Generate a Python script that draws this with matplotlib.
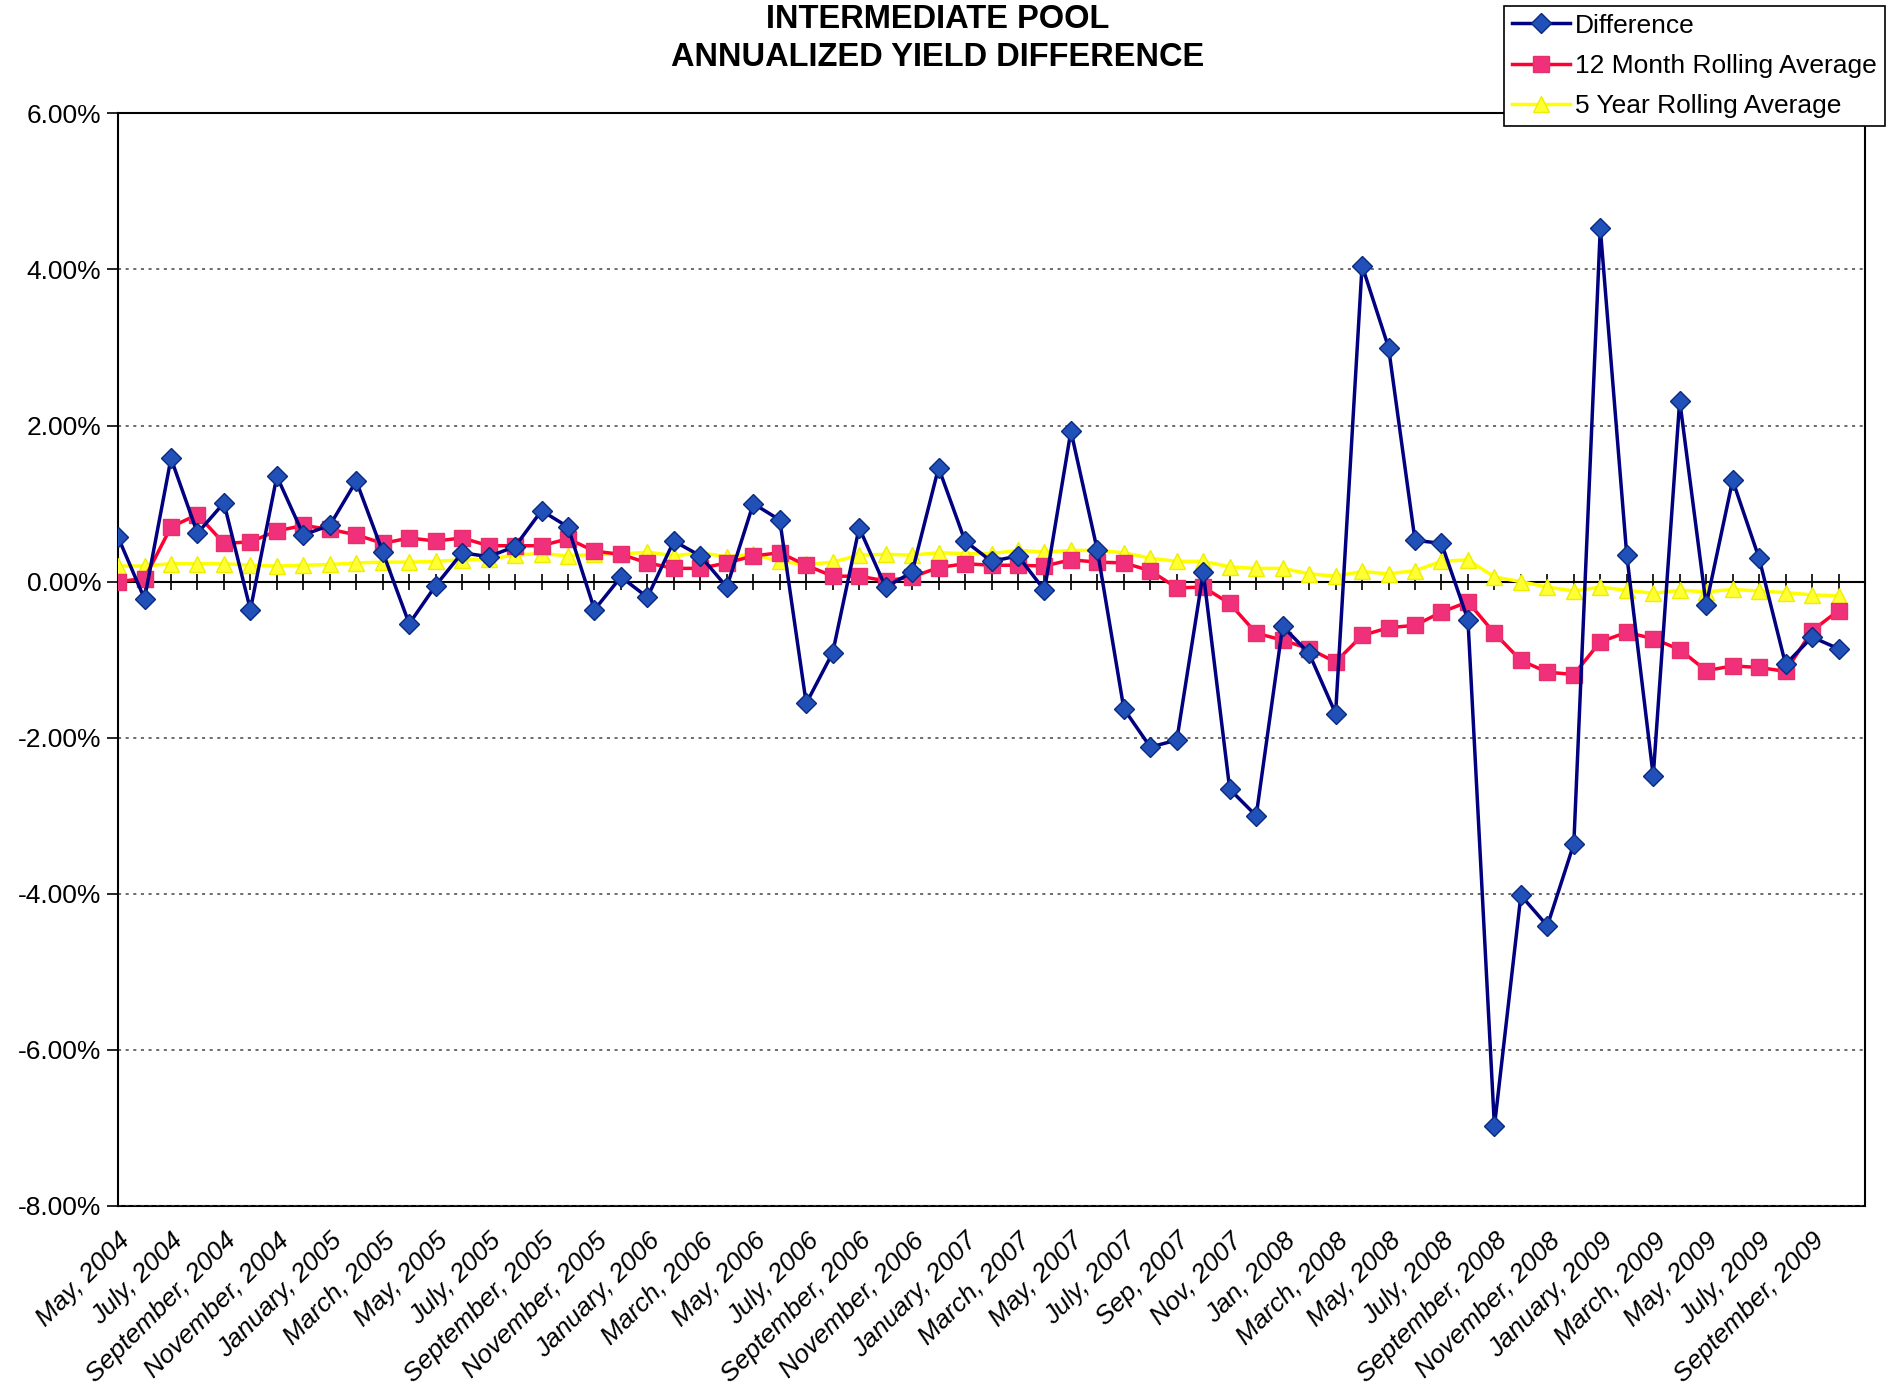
import numpy as np
import matplotlib
matplotlib.use("Agg")
import matplotlib.pyplot as plt
from matplotlib.ticker import FuncFormatter

plt.rcParams['font.family'] = ['Liberation Sans', 'DejaVu Sans']

# monthly data, May 2004 .. Oct 2009 (values in %)
difference = [0.57, -0.22, 1.58, 0.62, 1.01, -0.36, 1.35, 0.60, 0.72, 1.29,
              0.38, -0.54, -0.05, 0.37, 0.32, 0.45, 0.91, 0.70, -0.36, 0.06,
              -0.20, 0.52, 0.33, -0.07, 1.00, 0.79, -1.56, -0.91, 0.69, -0.07,
              0.12, 1.46, 0.52, 0.26, 0.33, -0.11, 1.93, 0.40, -1.63, -2.12,
              -2.03, 0.12, -2.66, -3.00, -0.57, -0.92, -1.69, 4.05, 3.00, 0.53,
              0.49, -0.49, -6.98, -4.02, -4.41, -3.36, 4.53, 0.34, -2.49, 2.32,
              -0.30, 1.30, 0.30, -1.06, -0.71, -0.86]
avg_12m = [0.00, 0.04, 0.70, 0.86, 0.49, 0.51, 0.65, 0.72, 0.67, 0.60,
           0.49, 0.56, 0.52, 0.56, 0.46, 0.46, 0.46, 0.55, 0.39, 0.35,
           0.24, 0.17, 0.17, 0.24, 0.33, 0.37, 0.21, 0.07, 0.07, 0.01,
           0.06, 0.18, 0.23, 0.21, 0.21, 0.20, 0.28, 0.25, 0.24, 0.14,
           -0.08, -0.07, -0.28, -0.66, -0.75, -0.86, -1.03, -0.69, -0.59, -0.56,
           -0.39, -0.26, -0.66, -1.01, -1.16, -1.19, -0.77, -0.65, -0.73, -0.87,
           -1.14, -1.08, -1.10, -1.15, -0.63, -0.37]
avg_5y = [0.20, 0.20, 0.23, 0.23, 0.23, 0.21, 0.20, 0.21, 0.22, 0.24,
          0.25, 0.25, 0.26, 0.28, 0.29, 0.34, 0.36, 0.33, 0.35, 0.35,
          0.38, 0.33, 0.37, 0.32, 0.35, 0.26, 0.22, 0.25, 0.34, 0.35,
          0.34, 0.37, 0.36, 0.36, 0.40, 0.38, 0.40, 0.40, 0.37, 0.30,
          0.26, 0.26, 0.19, 0.17, 0.17, 0.10, 0.07, 0.13, 0.10, 0.14,
          0.26, 0.28, 0.06, 0.00, -0.07, -0.12, -0.07, -0.11, -0.15, -0.11,
          -0.13, -0.10, -0.12, -0.14, -0.17, -0.18]

tick_labels = ["May, 2004", "July, 2004", "September, 2004", "November, 2004",
               "January, 2005", "March, 2005", "May, 2005", "July, 2005",
               "September, 2005", "November, 2005", "January, 2006", "March, 2006",
               "May, 2006", "July, 2006", "September, 2006", "November, 2006",
               "January, 2007", "March, 2007", "May, 2007", "July, 2007",
               "Sep, 2007", "Nov, 2007", "Jan, 2008", "March, 2008",
               "May, 2008", "July, 2008", "September, 2008", "November, 2008",
               "January, 2009", "March, 2009", "May, 2009", "July, 2009",
               "September, 2009"]

x = np.arange(len(difference))

fig = plt.figure(figsize=(18.98, 14.0), dpi=100)
ax = fig.add_axes([0.0622, 0.1386, 0.9204, 0.7804])

ax.plot(x, avg_5y, color="#FFFF00", lw=2.5, marker="^", ms=12,
        mfc="#FFFF33", mec="#EEEE00", label="5 Year Rolling Average", zorder=3)
ax.plot(x, avg_12m, color="#FF0033", lw=2.5, marker="s", ms=12,
        mfc="#F0307A", mec="#E8306A", label="12 Month Rolling Average", zorder=4)
ax.plot(x, difference, color="#000080", lw=2.5, marker="D", ms=10,
        mfc="#2050B8", mec="#0A2A80", label="Difference", zorder=5)

ax.set_xlim(0, 66)
ax.set_ylim(-8, 6)
ax.set_yticks(np.arange(-8, 6.1, 2))
ax.yaxis.set_major_formatter(FuncFormatter(lambda v, p: f"{v:.2f}%"))
ax.tick_params(axis="y", labelsize=19, length=8, width=1.2, direction="out", pad=4)
ax.yaxis.grid(True, linestyle=(0, (2, 3)), color="#444444", lw=1.1)

# category axis crosses at zero, with a tick on every month
ax.spines["bottom"].set_position(("data", 0))
ax.spines["bottom"].set_linewidth(1.5)
ax.set_xticks(np.arange(0, 67))
ax.set_xticklabels([])
ax.tick_params(axis="x", direction="inout", length=12, width=1.2)
for s in ["left", "top", "right"]:
    ax.spines[s].set_linewidth(1.5)

# labels along the bottom edge of the plot area
sec = ax.secondary_xaxis("bottom")
sec.set_xticks(np.arange(0, 66, 2))
sec.set_xticklabels(tick_labels, rotation=45, ha="right", rotation_mode="anchor",
                    fontsize=19, fontstyle="italic")
sec.tick_params(axis="x", length=0, pad=16)
sec.spines["bottom"].set_linewidth(1.5)

fig.text(0.494, 0.9975, "INTERMEDIATE POOL\nANNUALIZED YIELD DIFFERENCE",
         ha="center", va="top", fontsize=23.5, fontweight="bold",
         family=["Liberation Sans Narrow", "Liberation Sans"], linespacing=1.3)

h, l = ax.get_legend_handles_labels()
leg = fig.legend(h[::-1], l[::-1], loc="upper right",
                 bbox_to_anchor=(0.993, 0.996), fontsize=19, frameon=True,
                 fancybox=False, edgecolor="black", framealpha=1,
                 handlelength=2.2, handletextpad=0.2, borderpad=0.3,
                 labelspacing=0.62, borderaxespad=0)
leg.get_frame().set_linewidth(1.2)

fig.savefig("out.png", dpi=100)
